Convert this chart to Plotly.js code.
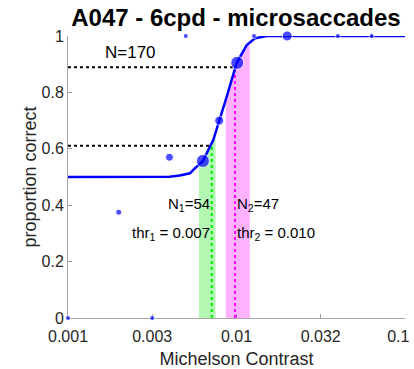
<!DOCTYPE html>
<html>
<head>
<meta charset="utf-8">
<script src="https://cdn.plot.ly/plotly-3.0.1.min.js"></script>
<style>html,body{margin:0;padding:0;background:#fff;}#chart{width:414px;height:369px;}</style>
</head>
<body>
<div id="chart"></div>
<script>
// Observed data points (contrast, proportion correct)
const contrasts = [0.001, 0.002, 0.00316, 0.004, 0.005, 0.00632, 0.0079, 0.0101, 0.0127, 0.02, 0.04, 0.0634];
const propCorrect = [0.0, 0.375, 0.0, 0.57, 1.0, 0.557, 0.70, 0.905, 1.0, 1.0, 1.0, 1.0];
const markerSizes = [5, 6, 5, 8, 5, 13, 9, 13, 5, 10, 5, 5];

// Psychometric fit curve
const curveX = [0.001, 0.002, 0.003, 0.004, 0.0046, 0.0053, 0.00554, 0.00632, 0.00728, 0.00792, 0.00875, 0.01003, 0.01074, 0.0115, 0.0129, 0.0151, 0.02, 0.05, 0.1];
const curveY = [0.5, 0.5, 0.5, 0.501, 0.505, 0.513, 0.525, 0.557, 0.631, 0.699, 0.785, 0.905, 0.939, 0.968, 0.992, 1.0, 1.0, 1.0, 1.0];

// Thresholds and confidence bands
const thr1 = 0.00713, level1 = 0.611, band1 = [0.00599, 0.00751];
const thr2 = 0.0098, level2 = 0.889, band2 = [0.00863, 0.0120];

const tickVals = [0.001, 0.00316, 0.01, 0.0316, 0.1];
const tickText = ['0.001', '0.003', '0.01', '0.032', '0.1\u00a0\u00a0\u00a0'];
const yTickVals = [0, 0.2, 0.4, 0.6, 0.8, 1];
const yTickText = ['0', '0.2', '0.4', '0.6', '0.8', '1'];

function curveAt(x) {
  const lx = Math.log10(x);
  for (let i = 0; i < curveX.length - 1; i++) {
    const a = Math.log10(curveX[i]), b = Math.log10(curveX[i + 1]);
    if (lx >= a && lx <= b) {
      const t = (lx - a) / (b - a);
      return curveY[i] + t * (curveY[i + 1] - curveY[i]);
    }
  }
  return curveY[curveY.length - 1];
}
function bandShape(band) {
  const xs = [band[0], band[0]], ys = [0, curveAt(band[0])];
  for (let i = 0; i < curveX.length; i++) {
    if (curveX[i] > band[0] && curveX[i] < band[1]) { xs.push(curveX[i]); ys.push(curveY[i]); }
  }
  xs.push(band[1], band[1]); ys.push(curveAt(band[1]), 0);
  return {x: xs, y: ys};
}
const b1 = bandShape(band1), b2 = bandShape(band2);

const traces = [
  {x: b1.x, y: b1.y, type: 'scatter', mode: 'lines', fill: 'toself', fillcolor: 'rgba(0,230,0,0.3)', line: {width: 0}, hoverinfo: 'skip'},
  {x: b2.x, y: b2.y, type: 'scatter', mode: 'lines', fill: 'toself', fillcolor: 'rgba(255,0,255,0.3)', line: {width: 0}, hoverinfo: 'skip'},
  {x: [contrasts[0], thr1], y: [level1, level1], type: 'scatter', mode: 'lines', line: {color: '#000', width: 2, dash: 'dot'}, cliponaxis: false},
  {x: [contrasts[0], thr2], y: [level2, level2], type: 'scatter', mode: 'lines', line: {color: '#000', width: 2, dash: 'dot'}, cliponaxis: false},
  {x: [thr1, thr1], y: [0, level1], type: 'scatter', mode: 'lines', line: {color: '#00ee00', width: 2, dash: 'dot'}},
  {x: [thr2, thr2], y: [0, level2], type: 'scatter', mode: 'lines', line: {color: '#ff00ff', width: 2, dash: 'dot'}},
  {x: curveX, y: curveY, type: 'scatter', mode: 'lines', line: {color: '#0000ff', width: 2.5}, cliponaxis: false},
  {x: contrasts, y: propCorrect, type: 'scatter', mode: 'markers', marker: {color: '#0000ff', size: markerSizes}, cliponaxis: false}
];

const layout = {
  width: 414, height: 369,
  margin: {l: 68, r: 9, t: 36, b: 51},
  paper_bgcolor: '#fff', plot_bgcolor: '#fff',
  showlegend: false,
  font: {family: '"Liberation Sans", Arial, sans-serif', color: '#262626'},
  title: {text: '<b>A047 - 6cpd - microsaccades</b>', font: {size: 24, color: '#000'}, x: 0.57, xanchor: 'center', y: 0.953, yanchor: 'middle'},
  xaxis: {
    type: 'log', range: [-3, -1],
    tickvals: tickVals, ticktext: tickText,
    ticks: 'inside', ticklen: 4, tickcolor: '#999',
    showline: true, linecolor: '#a6a6a6', linewidth: 1, mirror: false,
    showgrid: false, zeroline: false, layer: 'below traces',
    ticklabeloverflow: 'allow', ticklabelstandoff: 4,
    tickfont: {size: 16, color: '#262626'},
    title: {text: 'Michelson Contrast', font: {size: 18, color: '#262626'}, standoff: 8}
  },
  yaxis: {
    range: [0, 1],
    tickvals: yTickVals, ticktext: yTickText,
    ticks: 'inside', ticklen: 4, tickcolor: '#999',
    showline: true, linecolor: '#a6a6a6', linewidth: 1,
    showgrid: false, zeroline: false, layer: 'below traces',
    tickfont: {size: 16, color: '#262626'},
    title: {text: 'proportion correct', font: {size: 18, color: '#262626'}, standoff: 0}
  },
  annotations: [
    {text: 'N=170', x: -2.63, y: 0.942, xref: 'x', yref: 'y', showarrow: false, font: {size: 17, color: '#000'}},
    {text: 'N<sub>1</sub>=54', x: Math.log10(thr1), y: 0.403, xref: 'x', yref: 'y', xanchor: 'right', showarrow: false, font: {size: 15, color: '#000'}},
    {text: 'thr<sub>1</sub> = 0.007', x: Math.log10(thr1), y: 0.298, xref: 'x', yref: 'y', xanchor: 'right', showarrow: false, font: {size: 15, color: '#000'}},
    {text: 'N<sub>2</sub>=47', x: Math.log10(thr2), y: 0.403, xref: 'x', yref: 'y', xanchor: 'left', showarrow: false, font: {size: 15, color: '#000'}},
    {text: 'thr<sub>2</sub> = 0.010', x: Math.log10(thr2), y: 0.298, xref: 'x', yref: 'y', xanchor: 'left', showarrow: false, font: {size: 15, color: '#000'}}
  ]
};

Plotly.newPlot('chart', traces, layout, {displayModeBar: false, staticPlot: true});
</script>
</body>
</html>
